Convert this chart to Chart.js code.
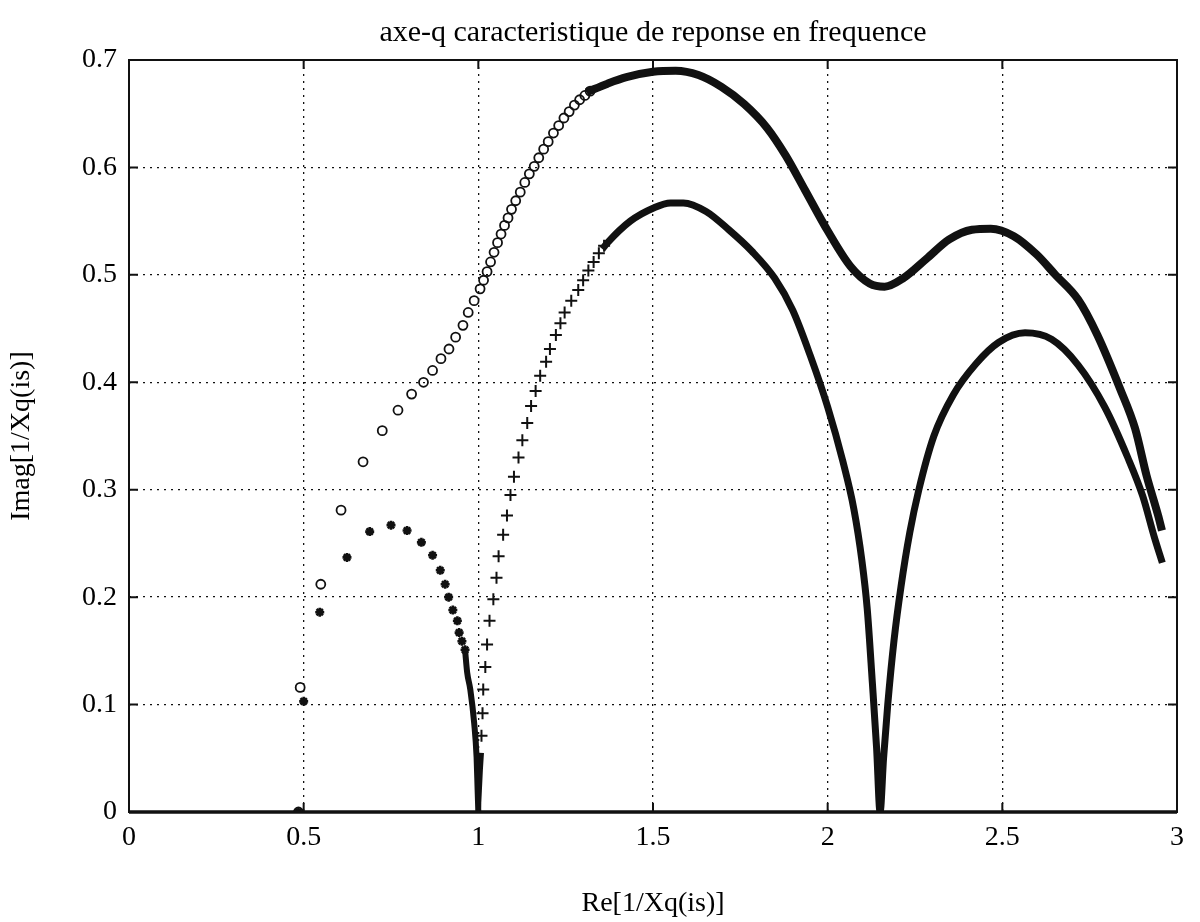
<!DOCTYPE html>
<html>
<head>
<meta charset="utf-8">
<title>axe-q caracteristique de reponse en frequence</title>
<script src="https://cdn.jsdelivr.net/npm/chart.js@4.4.1/dist/chart.umd.min.js"></script>
<style>
    html, body { margin: 0; padding: 0; background: #fff; }
    #wrap { width: 1200px; height: 922px; }
</style>
</head>
<body>
<div id="wrap"><canvas id="nyquistChart" width="1200" height="922"></canvas></div>
<script>
// --- data ---
const xTicks = [0, 0.5, 1, 1.5, 2, 2.5, 3];
const yTicks = [0, 0.1, 0.2, 0.3, 0.4, 0.5, 0.6, 0.7];

// "o" markers (separate circles before they merge into a band)
const circleX = [0.485, 0.49, 0.549, 0.607, 0.670, 0.725, 0.770, 0.809, 0.843, 0.869, 0.893, 0.916, 0.935, 0.956, 0.971, 0.988,
    1.005, 1.015, 1.025, 1.035, 1.045, 1.055, 1.065, 1.075, 1.085, 1.095, 1.107, 1.12, 1.133, 1.146, 1.16, 1.173, 1.187, 1.20,
    1.215, 1.23, 1.245, 1.26, 1.275, 1.29, 1.305, 1.32];
const circleY = [0.0, 0.116, 0.212, 0.281, 0.326, 0.355, 0.374, 0.389, 0.400, 0.411, 0.422, 0.431, 0.442, 0.453, 0.465, 0.476,
    0.487, 0.495, 0.503, 0.512, 0.521, 0.530, 0.538, 0.546, 0.553, 0.561, 0.569, 0.577, 0.586, 0.594, 0.601, 0.609, 0.617, 0.624,
    0.632, 0.639, 0.646, 0.652, 0.658, 0.663, 0.667, 0.671];
// "o" dense band
const circleBandX = [1.31, 1.37, 1.424, 1.5, 1.565, 1.63, 1.696, 1.761, 1.826, 1.88, 1.935, 2.0, 2.065, 2.12, 2.163, 2.217, 2.283,
    2.348, 2.413, 2.467, 2.533, 2.598, 2.652, 2.717, 2.772, 2.837, 2.88, 2.913, 2.946, 2.957];
const circleBandY = [0.670, 0.678, 0.684, 0.689, 0.690, 0.686, 0.675, 0.659, 0.637, 0.611, 0.579, 0.541, 0.508, 0.492, 0.489, 0.497, 0.515,
    0.533, 0.542, 0.543, 0.536, 0.519, 0.500, 0.477, 0.444, 0.394, 0.357, 0.313, 0.276, 0.262];

// "*" markers
const starX = [0.485, 0.50, 0.546, 0.624, 0.689, 0.750, 0.796, 0.837, 0.869, 0.891, 0.905, 0.915, 0.927, 0.94, 0.945, 0.953, 0.962];
const starY = [0.0, 0.103, 0.186, 0.237, 0.261, 0.267, 0.262, 0.251, 0.239, 0.225, 0.212, 0.200, 0.188, 0.178, 0.167, 0.159, 0.151];
// "*" dense band
const starBandX = [0.962, 0.968, 0.977, 0.988, 0.995, 0.998, 1.0];
const starBandY = [0.151, 0.130, 0.114, 0.083, 0.051, 0.020, 0.0];

// "+" markers
const plusX = [1.009, 1.012, 1.014, 1.02, 1.025, 1.032, 1.043, 1.052, 1.058, 1.071, 1.082, 1.092, 1.102, 1.115, 1.126, 1.140,
    1.151, 1.164, 1.177, 1.194, 1.205, 1.222, 1.235, 1.247, 1.266, 1.286, 1.30, 1.315, 1.33, 1.345, 1.36];
const plusY = [0.071, 0.092, 0.114, 0.135, 0.156, 0.178, 0.198, 0.218, 0.238, 0.258, 0.276, 0.295, 0.312, 0.330, 0.346, 0.362,
    0.378, 0.392, 0.406, 0.419, 0.431, 0.444, 0.455, 0.465, 0.476, 0.486, 0.495, 0.504, 0.512, 0.520, 0.527];
// "+" dense band near x = 1
const plusBandX = [1.0, 1.003, 1.006, 1.009];
const plusBandY = [0.0, 0.02, 0.04, 0.055];
// "+" dense band from the hump to the end
const plusTraceX = [1.355, 1.37, 1.435, 1.5, 1.55, 1.587, 1.652, 1.717, 1.783, 1.848, 1.90, 1.95, 2.0, 2.043, 2.075, 2.098,
    2.113, 2.128, 2.14, 2.15, 2.16, 2.172, 2.19, 2.21, 2.235, 2.261, 2.304, 2.359, 2.424, 2.489, 2.565, 2.641, 2.717,
    2.793, 2.859, 2.902, 2.935, 2.958];
const plusTraceY = [0.524, 0.530, 0.550, 0.562, 0.567, 0.567, 0.559, 0.542, 0.522, 0.497, 0.467, 0.425, 0.377, 0.327, 0.282, 0.234,
    0.190, 0.120, 0.060, 0.0, 0.050, 0.100, 0.160, 0.210, 0.260, 0.300, 0.350, 0.388, 0.417, 0.437, 0.446, 0.440, 0.416,
    0.377, 0.330, 0.294, 0.256, 0.232];

function pts(xs, ys) {
    return xs.map(function (x, i) { return { x: x, y: ys[i] }; });
}

const serif = "'Liberation Serif', 'DejaVu Serif', serif";
const ink = '#111';

// white page, box frame and inward tick marks like the original figure
const frame = {
    id: 'frame',
    beforeDraw: function (chart) {
        const c = chart.ctx;
        c.save();
        c.fillStyle = '#fff';
        c.fillRect(0, 0, chart.width, chart.height);
        c.restore();
    },
    afterDraw: function (chart) {
        const c = chart.ctx;
        const a = chart.chartArea;
        const sx = chart.scales.x, sy = chart.scales.y;
        c.save();
        c.strokeStyle = ink;
        c.lineWidth = 2;
        c.strokeRect(a.left, a.top, a.right - a.left, a.bottom - a.top);
        c.lineWidth = 3.5;
        c.beginPath();
        c.moveTo(a.left, a.bottom);
        c.lineTo(a.right, a.bottom);
        c.stroke();
        c.lineWidth = 2;
        c.beginPath();
        xTicks.forEach(function (v) {
            const px = sx.getPixelForValue(v);
            c.moveTo(px, a.bottom); c.lineTo(px, a.bottom - 9);
            c.moveTo(px, a.top); c.lineTo(px, a.top + 9);
        });
        yTicks.forEach(function (v) {
            const py = sy.getPixelForValue(v);
            c.moveTo(a.left, py); c.lineTo(a.left + 9, py);
            c.moveTo(a.right, py); c.lineTo(a.right - 9, py);
        });
        c.stroke();
        c.restore();
    }
};

const ctx = document.getElementById('nyquistChart').getContext('2d');
new Chart(ctx, {
    type: 'scatter',
    data: {
        datasets: [
            {
                label: 'o band',
                data: pts(circleBandX, circleBandY),
                showLine: true,
                borderColor: ink,
                borderWidth: 8,
                pointRadius: 0,
                cubicInterpolationMode: 'monotone'
            },
            {
                label: 'o',
                data: pts(circleX, circleY),
                pointStyle: 'circle',
                pointRadius: 4.5,
                borderWidth: 1.8,
                borderColor: ink,
                backgroundColor: 'rgba(255,255,255,0)'
            },
            {
                label: '* band',
                data: pts(starBandX, starBandY),
                showLine: true,
                borderColor: ink,
                borderWidth: 6,
                pointRadius: 0,
                cubicInterpolationMode: 'monotone'
            },
            {
                label: '*',
                data: pts(starX, starY),
                pointStyle: 'star',
                pointRadius: 4.5,
                borderWidth: 2.6,
                borderColor: ink,
                backgroundColor: ink
            },
            {
                label: '+ band',
                data: pts(plusBandX, plusBandY),
                showLine: true,
                borderColor: ink,
                borderWidth: 5,
                pointRadius: 0
            },
            {
                label: '+ trace',
                data: pts(plusTraceX, plusTraceY),
                showLine: true,
                borderColor: ink,
                borderWidth: 7,
                pointRadius: 0,
                cubicInterpolationMode: 'monotone'
            },
            {
                label: '+',
                data: pts(plusX, plusY),
                pointStyle: 'cross',
                pointRadius: 6,
                borderWidth: 2,
                borderColor: ink
            }
        ]
    },
    options: {
        responsive: false,
        animation: false,
        layout: { padding: { left: 0, right: 23, top: 0, bottom: 0 } },
        plugins: {
            legend: { display: false },
            tooltip: { enabled: false },
            title: {
                display: true,
                fullSize: false,
                text: 'axe-q caracteristique de reponse en frequence',
                color: '#000',
                font: { family: serif, size: 30, weight: 'normal' },
                padding: { top: 15, bottom: 9 }
            }
        },
        scales: {
            x: {
                type: 'linear',
                min: 0,
                max: 3,
                afterFit: function (scale) { scale.height = 110; },
                afterBuildTicks: function (scale) {
                    scale.ticks = xTicks.map(function (v) { return { value: v }; });
                },
                ticks: {
                    color: '#000',
                    padding: 9,
                    maxRotation: 0,
                    font: { family: serif, size: 28 },
                    callback: function (v) { return String(v); }
                },
                grid: { color: ink, lineWidth: 1.3, drawTicks: false, borderDash: [2, 5] },
                border: { display: false, dash: [2, 5] },
                title: {
                    display: true,
                    text: 'Re[1/Xq(is)]',
                    color: '#000',
                    font: { family: serif, size: 28 },
                    padding: { top: 0, bottom: 2 }
                }
            },
            y: {
                type: 'linear',
                min: 0,
                max: 0.7,
                afterFit: function (scale) { scale.width = 129; },
                afterBuildTicks: function (scale) {
                    scale.ticks = yTicks.map(function (v) { return { value: v }; });
                },
                ticks: {
                    color: '#000',
                    padding: 12,
                    font: { family: serif, size: 28 },
                    callback: function (v) { return v === 0 ? '0' : v.toFixed(1); }
                },
                grid: { color: ink, lineWidth: 1.3, drawTicks: false, borderDash: [2, 5] },
                border: { display: false, dash: [2, 5] },
                title: {
                    display: true,
                    text: 'Imag[1/Xq(is)]',
                    color: '#000',
                    font: { family: serif, size: 28 },
                    padding: { top: 5, bottom: 0 }
                }
            }
        }
    },
    plugins: [frame]
});
</script>
</body>
</html>
